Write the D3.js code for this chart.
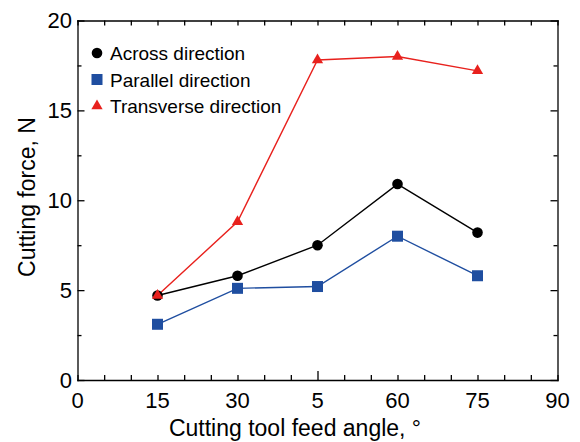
<!DOCTYPE html>
<html lang="en">
<head>
<meta charset="UTF-8">
<script src="https://cdn.jsdelivr.net/npm/d3@7"></script>
<title>Cutting force</title>
<style>
  body { margin: 0; background: #fff; }
  text { font-family: "Liberation Sans", Arial, sans-serif; fill: #000; }
  .axis path, .axis line { stroke: #000; stroke-width: 1.3px; }
</style>
</head>
<body>
<svg id="chart" width="580" height="442"></svg>
<script>
// angles (deg) and forces (N)
const angles = [15, 30, 45, 60, 75];
const across = [4.7, 5.8, 7.5, 10.9, 8.2];
const parallel = [3.1, 5.1, 5.2, 8.0, 5.8];
const transverse = [4.7, 8.8, 17.8, 18.0, 17.2];

const xTickValues = [0, 15, 30, 45, 60, 75, 90];
const xTickLabels = ["0", "15", "30", "5", "60", "75", "90"];   // "5" as printed in the original
const yTickValues = [0, 5, 10, 15, 20];

const series = [
  { name: "Across direction", values: across, color: "#000000", shape: "circle" },
  { name: "Parallel direction", values: parallel, color: "#1f4ea0", shape: "square" },
  { name: "Transverse direction", values: transverse, color: "#e8211d", shape: "triangle" }
];

const svg = d3.select("#chart");
const mLeft = 77.5, mRight = 557.5, mTop = 20.5, mBottom = 380;

const x = d3.scaleLinear().domain([0, 90]).range([mLeft, mRight]);
const y = d3.scaleLinear().domain([0, 20]).range([mBottom, mTop]);

// frame + inward ticks
const minorX = d3.range(0, 91, 5);
const minorY = d3.range(0, 20.1, 2.5);

svg.append("g").attr("class", "axis")
  .attr("transform", `translate(0,${mBottom})`)
  .call(d3.axisBottom(x).tickValues(minorX).tickSizeInner(-5).tickSizeOuter(0).tickFormat(""))
  .call(g => g.selectAll(".tick line").filter(d => d === 45).attr("y2", -9));

svg.append("g").attr("class", "axis")
  .attr("transform", `translate(0,${mTop})`)
  .call(d3.axisTop(x).tickValues(minorX).tickSizeInner(-5).tickSizeOuter(0).tickFormat(""));

svg.append("g").attr("class", "axis")
  .attr("transform", `translate(${mLeft},0)`)
  .call(d3.axisLeft(y).tickValues(minorY).tickSizeInner(-4).tickSizeOuter(0).tickFormat(""))
  .call(g => g.selectAll(".tick line").filter(d => d % 5 === 0).attr("x2", 7));

svg.append("g").attr("class", "axis")
  .attr("transform", `translate(${mRight},0)`)
  .call(d3.axisRight(y).tickValues(minorY).tickSizeInner(-4).tickSizeOuter(0).tickFormat(""))
  .call(g => g.selectAll(".tick line").filter(d => d % 5 === 0).attr("x2", -7));

svg.selectAll(".axis .domain").attr("stroke-linecap", "square");

// tick labels
svg.append("g").selectAll("text")
  .data(xTickValues)
  .join("text")
  .attr("x", d => x(d))
  .attr("y", 408)
  .attr("text-anchor", "middle")
  .attr("font-size", 22)
  .text((d, i) => xTickLabels[i]);

svg.append("g").selectAll("text")
  .data(yTickValues)
  .join("text")
  .attr("x", 72)
  .attr("y", d => y(d) + 7.8)
  .attr("text-anchor", "end")
  .attr("font-size", 22)
  .text(d => d);

// axis titles
svg.append("text")
  .attr("x", 295)
  .attr("y", 436)
  .attr("text-anchor", "middle")
  .attr("font-size", 23)
  .text("Cutting tool feed angle, \u00b0");

svg.append("text")
  .attr("transform", "translate(35,197) rotate(-90)")
  .attr("text-anchor", "middle")
  .attr("font-size", 23)
  .text("Cutting force, N");

// markers
function marker(sel, shape, color) {
  if (shape === "circle") {
    sel.append("circle").attr("r", 5.3).attr("fill", color);
  } else if (shape === "square") {
    sel.append("rect").attr("x", -5.5).attr("y", -5.5).attr("width", 11).attr("height", 11).attr("fill", color);
  } else {
    sel.append("path").attr("d", d3.symbol(d3.symbolTriangle, 55)()).attr("fill", color);
  }
}

const line = d3.line().x((d, i) => x(angles[i])).y(d => y(d));

// draw transverse last so its first marker sits on top like the original
const drawOrder = [1, 0, 2];
drawOrder.forEach(k => {
  const s = series[k];
  svg.append("path")
    .datum(s.values)
    .attr("d", line)
    .attr("fill", "none")
    .attr("stroke", s.color)
    .attr("stroke-width", 1.4);
});
drawOrder.forEach(k => {
  const s = series[k];
  svg.append("g").selectAll("g")
    .data(s.values)
    .join("g")
    .attr("transform", (d, i) => `translate(${x(angles[i])},${y(d)})`)
    .each(function () { marker(d3.select(this), s.shape, s.color); });
});

// legend
const legend = svg.append("g").attr("transform", "translate(97,0)");
series.forEach((s, i) => {
  const cy = 53 + i * 26.5;
  const g = legend.append("g").attr("transform", `translate(0,${cy})`);
  marker(g, s.shape, s.color);
  legend.append("text")
    .attr("x", 13)
    .attr("y", cy + 7)
    .attr("font-size", 19)
    .text(s.name);
});
</script>
</body>
</html>
